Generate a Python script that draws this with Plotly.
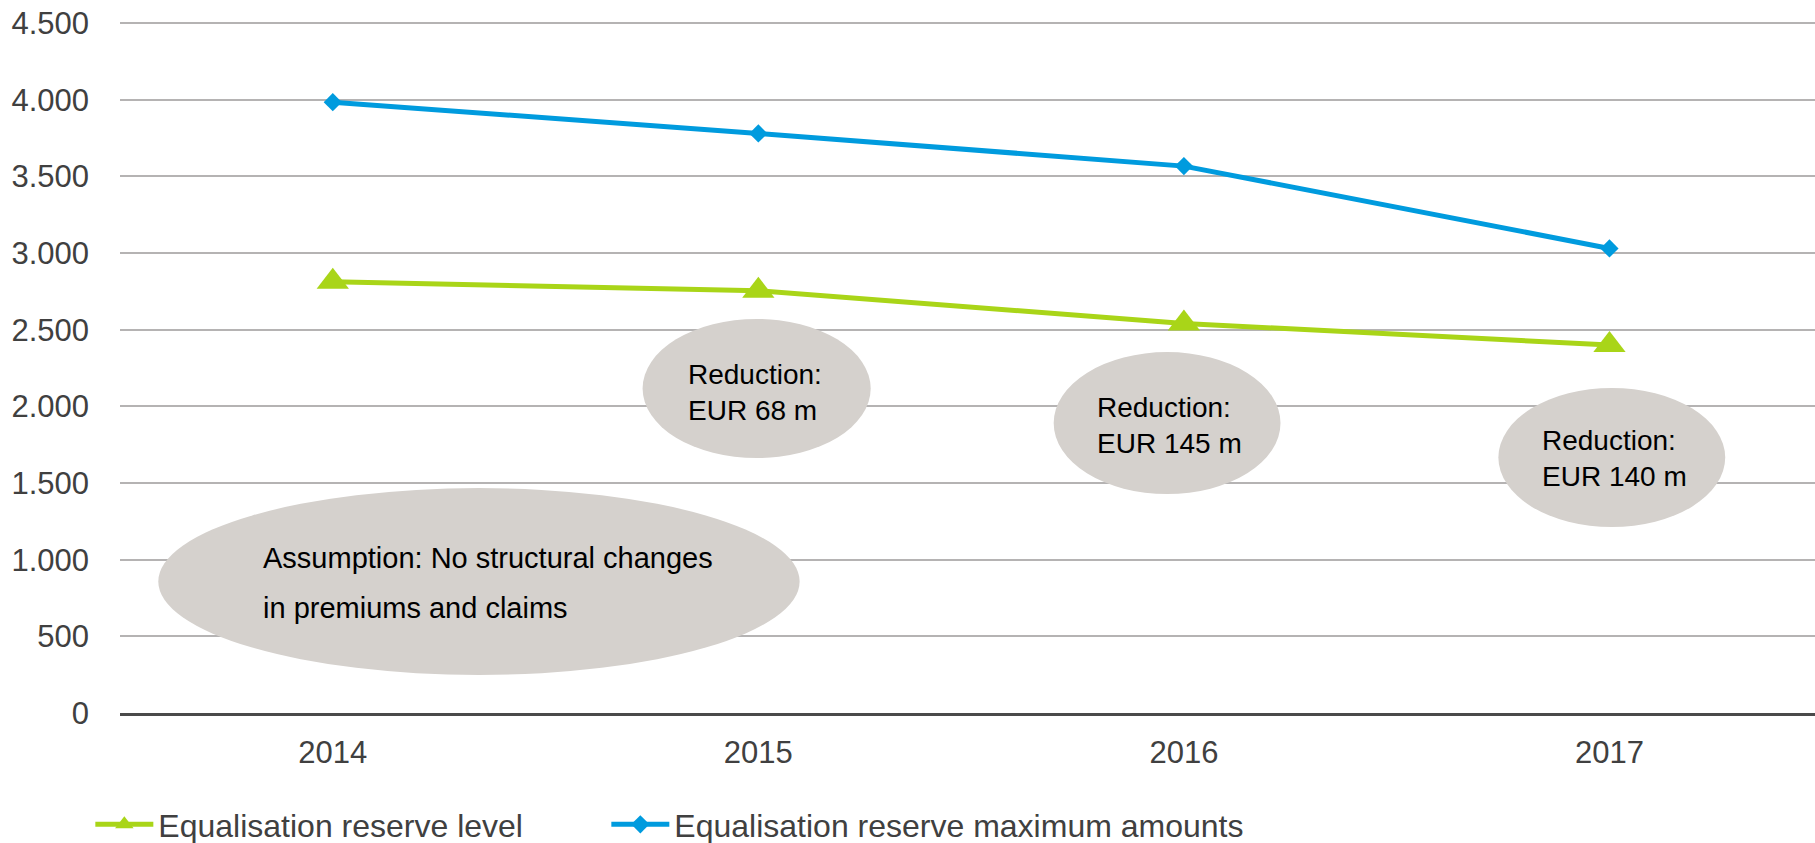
import plotly.graph_objects as go

# ---- data ----
years = ["2014", "2015", "2016", "2017"]
reserve_level = [2812, 2754, 2541, 2400]
reserve_max = [3984, 3780, 3567, 3030]
y_tick_vals = [0, 500, 1000, 1500, 2000, 2500, 3000, 3500, 4000, 4500]
y_tick_text = ["0", "500", "1.000", "1.500", "2.000", "2.500", "3.000", "3.500", "4.000", "4.500"]
series_names = ["Equalisation reserve level", "Equalisation reserve maximum amounts"]
reduction_texts = ["Reduction:<br>EUR 68 m", "Reduction:<br>EUR 145 m", "Reduction:<br>EUR 140 m"]
assumption_lines = ["Assumption: No structural changes", "in premiums and claims"]

# ---- style ----
GREEN = "#A9D518"
BLUE = "#009BDE"
ELLIPSE = "#D5D1CD"
GRID = "#B5B3B3"
TXT = "#404040"
FONT = "Liberation Sans, Arial, sans-serif"

fig = go.Figure()
fig.add_trace(go.Scatter(
    x=years, y=reserve_level, name=series_names[0], mode="lines+markers",
    line=dict(color=GREEN, width=5),
    marker=dict(symbol="triangle-up", size=28, color=GREEN),
    legendwidth=443,
))
fig.add_trace(go.Scatter(
    x=years, y=reserve_max, name=series_names[1], mode="lines+markers",
    line=dict(color=BLUE, width=5),
    marker=dict(symbol="diamond", size=14, color=BLUE),
))

# ellipses (x in category index units, y in data units)
ellipses = [
    (-0.410, 248, 1.097, 1467),
    (0.728, 1663, 1.264, 2570),
    (1.694, 1428, 2.227, 2354),
    (2.739, 1213, 3.272, 2120),
]
for x0, y0, x1, y1 in ellipses:
    fig.add_shape(type="circle", xref="x", yref="y", x0=x0, y0=y0, x1=x1, y1=y1,
                  fillcolor=ELLIPSE, line=dict(width=0), layer="between")

red_pos = [(0.829, 2093), (1.792, 1872), (2.837, 1657)]
for (ax, ay), t in zip(red_pos, reduction_texts):
    fig.add_annotation(x=ax, y=ay, xref="x", yref="y", text=t, showarrow=False,
                       xanchor="left", yanchor="middle", align="left",
                       font=dict(family=FONT, size=28, color="#000000"))

ass_pos = [(-0.169, 1011), (-0.169, 685)]
for (ax, ay), t in zip(ass_pos, assumption_lines):
    fig.add_annotation(x=ax, y=ay, xref="x", yref="y", text=t, showarrow=False,
                       xanchor="left", yanchor="middle", align="left",
                       font=dict(family=FONT, size=29, color="#000000"))

fig.update_layout(
    width=1815, height=843,
    margin=dict(l=120, r=0, t=20, b=130, autoexpand=False),
    paper_bgcolor="white", plot_bgcolor="white",
    font=dict(family=FONT, color=TXT),
    showlegend=True,
    legend=dict(orientation="h", x=-0.0175, xanchor="left", y=-0.161, yanchor="middle",
                font=dict(family=FONT, size=32, color=TXT), itemwidth=58,
                bgcolor="rgba(0,0,0,0)", tracegroupgap=0),
    xaxis=dict(type="category", range=[-0.5, 3.483], showgrid=False,
               showline=True, linecolor="#4A4A4A", linewidth=2.5,
               ticks="", tickfont=dict(family=FONT, size=31, color=TXT),
               ticklabelstandoff=10, zeroline=False, fixedrange=True),
    yaxis=dict(range=[0, 4520], tickvals=y_tick_vals, ticktext=y_tick_text,
               showgrid=True, gridcolor=GRID, gridwidth=1.8, zeroline=False,
               ticks="", tickfont=dict(family=FONT, size=31, color=TXT),
               ticklabelstandoff=30, showline=False, fixedrange=True),
)

fig.write_html("out.html", config={"displayModeBar": False},
               post_script="document.body.style.margin='0';document.body.style.overflow='hidden';")
